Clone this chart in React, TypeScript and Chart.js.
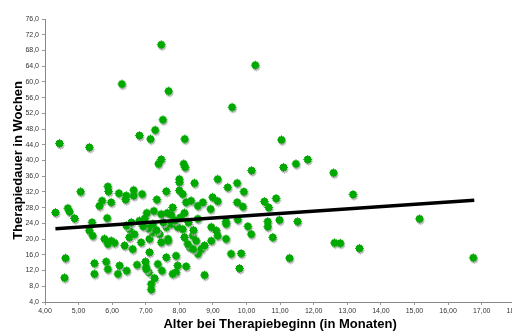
import React, { useEffect, useRef } from "react";
import { Chart, registerables } from "chart.js";

Chart.register(...registerables);

const xTitle = "Alter bei Therapiebeginn (in Monaten)";
const yTitle = "Therapiedauer in Wochen";

const xMin = 4;
const xMax = 18;
const xStep = 1;
const yMin = 4;
const yMax = 76;
const yStep = 4;

const ageMonths = [
  7.49, 10.29, 6.32, 7.71, 9.6, 7.54, 6.84, 7.17, 7.31, 8.19, 11.07, 4.46, 5.35, 7.49, 7.41,
  5.09, 5.9, 5.92, 6.23, 6.45, 6.43, 6.67, 6.67, 6.92, 7.64, 5.73, 5.65, 6.0, 7.36, 4.34,
  4.71, 4.76, 4.91, 5.88, 7.06, 7.27, 7.49, 7.67, 5.43, 8.16, 8.2, 10.18, 11.13, 11.5, 8.03,
  8.03, 8.48, 9.17, 9.75, 9.47, 9.95, 8.03, 8.13, 8.23, 8.38, 8.58, 8.73, 9.02, 9.17, 8.96,
  9.75, 9.92, 10.56, 10.69, 10.91, 7.83, 7.79, 8.18, 8.58, 9.42, 9.77, 10.66, 11.01, 11.55, 5.35,
  5.45, 5.8, 6.0, 6.1, 5.9, 6.54, 6.54, 6.69, 6.4, 6.64, 6.89, 7.14, 7.14, 7.24, 7.44,
  7.49, 7.69, 7.64, 6.84, 7.24, 7.64, 4.64, 4.61, 5.5, 5.5, 5.85, 5.9, 6.25, 6.2, 6.46,
  6.77, 7.02, 7.04, 7.12, 7.39, 7.51, 7.29, 7.19, 7.19, 7.79, 7.98, 8.13, 7.69, 8.18, 8.43,
  8.53, 8.33, 8.28, 8.68, 8.58, 8.78, 8.98, 9.13, 9.17, 8.98, 9.42, 9.42, 10.07, 10.17, 10.81,
  9.57, 9.87, 9.82, 11.31, 7.93, 7.98, 7.93, 7.83, 8.23, 8.78, 11.85, 12.62, 13.2, 10.66, 12.65,
  12.82, 13.39, 15.18, 16.78, 7.9, 8.05, 7.55, 7.1, 6.95, 8.3, 8.45, 7.35, 6.45, 6.6, 7.0,
  7.04, 8.44
];

const therapyWeeks = [
  69.2, 64.0, 59.2, 57.4, 53.3, 50.1, 46.1, 45.2, 47.5, 45.2, 45.0, 44.1, 43.1, 40.0, 38.9,
  31.8, 33.1, 31.9, 31.4, 30.8, 29.8, 32.2, 30.8, 31.2, 31.9, 29.5, 28.2, 29.1, 29.8, 26.5,
  27.6, 26.7, 25.0, 25.1, 26.4, 26.9, 26.1, 26.4, 24.0, 38.9, 38.0, 37.2, 38.0, 38.9, 35.0,
  34.2, 34.0, 35.0, 34.0, 32.9, 31.8, 32.1, 31.2, 29.1, 29.5, 28.2, 29.1, 30.4, 29.4, 27.4,
  29.1, 28.0, 29.3, 27.8, 30.1, 27.8, 25.9, 26.4, 24.9, 24.2, 24.7, 24.2, 24.6, 24.2, 21.9,
  20.6, 19.8, 19.3, 18.8, 18.5, 22.3, 20.2, 21.0, 18.1, 17.2, 18.9, 19.8, 16.4, 21.5, 21.0,
  18.9, 19.8, 15.1, 24.4, 23.6, 22.8, 14.9, 9.9, 13.6, 10.9, 14.0, 12.1, 13.0, 10.9, 11.7,
  13.2, 14.0, 12.6, 11.3, 13.4, 11.7, 9.8, 8.3, 6.9, 23.6, 22.8, 22.3, 19.3, 20.2, 20.6,
  19.3, 17.7, 18.5, 17.2, 16.0, 18.1, 22.8, 21.9, 20.6, 19.3, 23.6, 19.8, 23.0, 21.0, 20.2,
  16.0, 16.1, 12.3, 14.9, 15.5, 13.0, 11.3, 10.9, 12.8, 10.6, 40.0, 36.6, 31.1, 22.9, 18.8,
  18.7, 17.4, 24.9, 15.0, 24.5, 25.2, 24.0, 22.5, 23.0, 24.0, 22.0, 22.0, 23.2, 24.0, 25.0,
  12.1, 17.2
];

const trendX = [4.31, 16.78];
const trendY = [22.65, 29.9];

const fmt = (v: number, d: number) => v.toFixed(d).replace(".", ",");

function makeMarker(): HTMLCanvasElement {
  const c = document.createElement("canvas");
  c.width = 13;
  c.height = 13;
  const ctx = c.getContext("2d")!;
  const draw = (ox: number, oy: number, color: string) => {
    ctx.fillStyle = color;
    const cx = 5 + ox;
    const cy = 5 + oy;
    ctx.fillRect(cx - 3, cy - 2, 7, 5);
    ctx.fillRect(cx - 2, cy - 3, 5, 7);
    ctx.fillRect(cx - 4, cy, 9, 1);
    ctx.fillRect(cx, cy - 4, 1, 9);
  };
  draw(1, 2, "rgba(170,170,170,0.6)");
  draw(0, 0, "#00a800");
  return c;
}

export default function App() {
  const ref = useRef<HTMLCanvasElement>(null);

  useEffect(() => {
    if (!ref.current) return;
    const marker = makeMarker();
    const points = ageMonths.map((x, i) => ({ x, y: therapyWeeks[i] }));
    const trend = trendX.map((x, i) => ({ x, y: trendY[i] }));
    const font = "'Liberation Sans', Arial, sans-serif";
    const chart = new Chart(ref.current, {
      type: "scatter",
      data: {
        datasets: [
          {
            type: "line",
            data: trend,
            borderColor: "#000000",
            borderWidth: 3.5,
            pointRadius: 0,
            fill: false,
            order: 0,
          },
          {
            type: "scatter",
            data: points,
            pointStyle: marker,
            pointRadius: 5,
            order: 1,
          },
        ],
      },
      options: {
        responsive: false,
        animation: false,
        events: [],
        layout: { padding: { top: 19, right: 0, left: 0, bottom: 0 } },
        plugins: { legend: { display: false }, tooltip: { enabled: false } },
        scales: {
          x: {
            type: "linear",
            min: xMin,
            max: xMax,
            afterFit: (s: any) => {
              s.height = 30;
            },
            ticks: {
              stepSize: xStep,
              callback: (v: any) => fmt(Number(v), 2),
              font: { family: font, size: 7 },
              color: "#333333",
              padding: 2,
              maxRotation: 0,
              autoSkip: false,
            },
            grid: { drawOnChartArea: false, drawTicks: true, tickLength: 3, color: "#999999" },
            border: { color: "#888888", width: 1 },
            title: {
              display: true,
              text: xTitle,
              font: { family: font, size: 13, weight: "bold" },
              color: "#000000",
              padding: 0,
            },
          },
          y: {
            type: "linear",
            min: yMin,
            max: yMax,
            afterFit: (s: any) => {
              s.width = 45;
            },
            ticks: {
              stepSize: yStep,
              callback: (v: any) => fmt(Number(v), 1),
              font: { family: font, size: 7 },
              color: "#333333",
              padding: 3,
              autoSkip: false,
            },
            grid: { drawOnChartArea: false, drawTicks: true, tickLength: 3, color: "#999999" },
            border: { color: "#888888", width: 1 },
            title: {
              display: true,
              text: yTitle,
              font: { family: font, size: 13, weight: "bold" },
              color: "#000000",
              padding: 11,
            },
          },
        },
      },
    } as any);
    return () => chart.destroy();
  }, []);

  return (
    <div style={{ position: "fixed", left: 0, top: 0, width: 512, height: 332, overflow: "hidden", background: "#fff" }}>
      <canvas ref={ref} width={526} height={332} style={{ display: "block" }} />
    </div>
  );
}
